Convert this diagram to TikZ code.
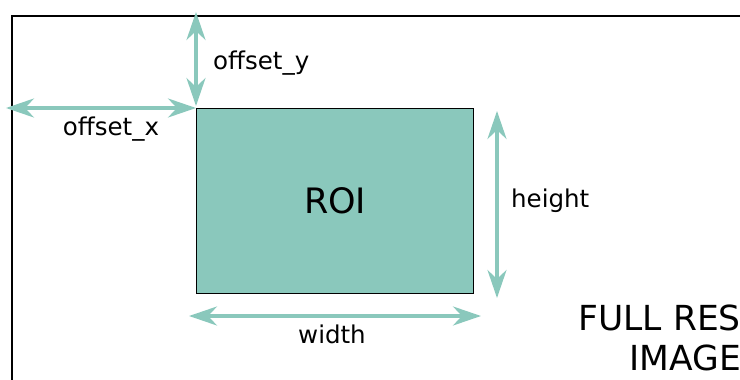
\documentclass[tikz,border=0pt]{standalone}
\usepackage{fontspec}
\setmainfont{DejaVu Sans}
\usetikzlibrary{arrows.meta,positioning}
\definecolor{roiteal}{RGB}{138,200,188}
\tikzset{
  dimarrow/.style={draw=roiteal, line width=3.4pt,
    {Stealth[length=28pt,width=19pt,inset=9pt]}-{Stealth[length=28pt,width=19pt,inset=9pt]}},
  dimlabel/.style={font=\fontsize{24.5}{28}\selectfont, inner sep=0pt},
  roibox/.style={draw=black, line width=1.3pt, fill=roiteal, anchor=north west,
    minimum width=277pt, minimum height=185pt, inner sep=0pt,
    font=\fontsize{35}{40}\selectfont}
}
\begin{document}
\begin{tikzpicture}[x=1pt,y=-1pt]
\useasboundingbox (0,0) rectangle (740,380);
% full resolution frame
\draw[line width=2.2pt] (12,381) -- (12,16) -- (741,16);
\node[anchor=east, align=right, inner sep=0pt,
  font=\fontsize{34.5}{40}\selectfont] (fullres) at (741,338) {FULL RES\\IMAGE};
% region of interest
\node[roibox] (roi) at (196,108) {ROI};
% dimension end points
\coordinate (oytop) at (196,12);
\coordinate (oybot) at (196,106);
\coordinate (oxleft) at (6,108);
\coordinate (oxright) at (196,108);
\coordinate (htop) at (497,111);
\coordinate (hbot) at (497,298);
\coordinate (wleft) at (189,316);
\coordinate (wright) at (481,316);
% dimensions
\draw[dimarrow] (oytop) -- (oybot);
\draw[dimarrow] (oxleft) -- (oxright);
\draw[dimarrow] (htop) -- (hbot);
\draw[dimarrow] (wleft) -- (wright);
% labels
\node[dimlabel, anchor=west] (offy) at (213,63) {offset\_y};
\node[dimlabel, anchor=base] (offx) at (111,135) {offset\_x};
\node[dimlabel, anchor=west] (hgt) at (511,201) {height};
\node[dimlabel, anchor=base] (wdt) at (332,343) {width};
\end{tikzpicture}
\end{document}
